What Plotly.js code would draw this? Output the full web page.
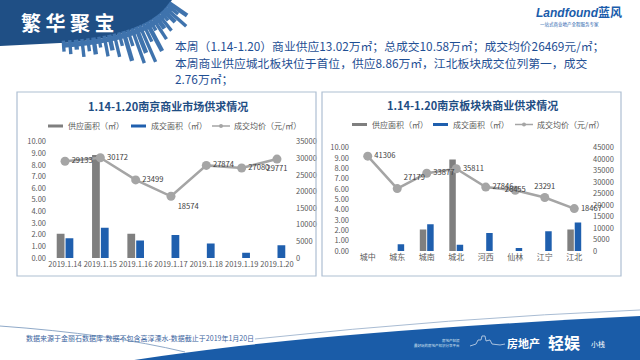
<!DOCTYPE html>
<html><head><meta charset="utf-8">
<script src="https://cdn.plot.ly/plotly-3.0.1.min.js"></script>
<style>html,body{margin:0;padding:0;background:#fff}#chart{width:640px;height:360px}</style>
</head><body><div id="chart"></div>
<script>
// ---- data ----
const dates = ['2019.1.14','2019.1.15','2019.1.16','2019.1.17','2019.1.18','2019.1.19','2019.1.20'];
const citySupply = [2.08, 8.86, 2.08, 0, 0, 0, 0];
const cityDeal = [1.70, 2.60, 1.50, 1.98, 1.25, 0.45, 1.10];
const cityPrice = [29133, 30172, 23499, 18574, 27874, 27080, 29771];
const areas = ['城中','城东','城南','城北','河西','仙林','江宁','江北'];
const areaSupply = [0, 0, 2.08, 8.86, 0, 0, 0, 2.08];
const areaDeal = [0, 0.66, 2.60, 0.60, 1.74, 0.30, 1.92, 2.76];
const areaPrice = [41306, 27179, 33877, 35811, 27846, 26455, 23291, 18467];
const legendNames = ['供应面积（㎡）','成交面积（㎡）','成交均价（元/㎡）'];

// ---- styles ----
const W = 640, H = 360;
const GRAY = '#7f7f7f', BLUE = '#1f5fae', LINE = '#a5a5a5';
const CJK = '"Noto Sans CJK SC", "Noto Sans", sans-serif';
const leftPos = ['middle right','middle right','middle right','bottom right','middle right','middle right','bottom center'];
const rightPos = ['middle right','top right','middle right','middle right','middle right','middle center','top center','middle right'];

function fx(x){return x/W;}
function fy(y){return 1-y/H;}
function P(x,y){return fx(x).toFixed(4)+','+fy(y).toFixed(4);}
function path(pts, close){
  let s = 'M' + P(pts[0][0], pts[0][1]);
  for (let i=1;i<pts.length;i++) s += ' L' + P(pts[i][0], pts[i][1]);
  return s + (close ? ' Z' : '');
}
function A(x,y,text,o){
  o = o || {};
  return {xref:'paper',yref:'paper',x:fx(x),y:fy(y),text:text,showarrow:false,
    xanchor:o.xa||'left',yanchor:o.ya||'middle',
    font:{family:o.family||CJK,size:o.size||8,color:o.color||'#595959',weight:o.weight||'normal',style:o.style||'normal'}};
}

const tickFont = {family:CJK,size:7.5,color:'#595959'};
const labelFont = {family:CJK,size:7.6,color:'#404040'};

const traces = [
  {type:'bar',x:dates,y:citySupply,xaxis:'x',yaxis:'y',marker:{color:GRAY},hoverinfo:'skip',name:legendNames[0]},
  {type:'bar',x:dates,y:cityDeal,xaxis:'x',yaxis:'y',marker:{color:BLUE},hoverinfo:'skip',name:legendNames[1]},
  {type:'scatter',x:dates,y:cityPrice,xaxis:'x',yaxis:'y2',mode:'lines+markers+text',
   line:{color:LINE,width:2.5},marker:{color:LINE,size:9},text:cityPrice.map(String),
   textposition:leftPos,textfont:labelFont,cliponaxis:false,hoverinfo:'skip',name:legendNames[2]},
  {type:'bar',x:areas,y:areaSupply,xaxis:'x2',yaxis:'y3',marker:{color:GRAY},hoverinfo:'skip',name:legendNames[0]},
  {type:'bar',x:areas,y:areaDeal,xaxis:'x2',yaxis:'y3',marker:{color:BLUE},hoverinfo:'skip',name:legendNames[1]},
  {type:'scatter',x:areas,y:areaPrice,xaxis:'x2',yaxis:'y4',mode:'lines+markers+text',
   line:{color:LINE,width:2.5},marker:{color:LINE,size:9},text:areaPrice.map(String),
   textposition:rightPos,textfont:labelFont,cliponaxis:false,hoverinfo:'skip',name:legendNames[2]}
];

const yBase = {showgrid:false,zeroline:false,showline:false,ticks:'',tickfont:tickFont,fixedrange:true};
const xBase = {type:'category',showgrid:false,zeroline:false,showline:false,ticks:'',tickfont:tickFont,tickangle:0,fixedrange:true};

const shapes = [];
const annotations = [];

// top-left navy blob
shapes.push({type:'path',xref:'paper',yref:'paper',line:{width:0},fillcolor:'#1f4f85',
  path:'M'+P(0,0)+' L'+P(172,0)+' Q'+P(150,38)+' '+P(60,43)+' L'+P(0,46)+' Z'});
// skyline buildings radiating from the blob edge
(function(){
  const P0=[172,2], C=[150,38], P2=[58,43];
  const hs=[20,12,26,15,9,19,13,23,10,31,18,38,26,35,15,29,12,22,14,19,9,15,11,16,8,12,9];
  const n=hs.length;
  for(let i=0;i<n;i++){
    const t=0.03+0.94*i/(n-1);
    const bx=(1-t)*(1-t)*P0[0]+2*(1-t)*t*C[0]+t*t*P2[0];
    const by=(1-t)*(1-t)*P0[1]+2*(1-t)*t*C[1]+t*t*P2[1];
    let tx=2*(1-t)*(C[0]-P0[0])+2*t*(P2[0]-C[0]);
    let ty=2*(1-t)*(C[1]-P0[1])+2*t*(P2[1]-C[1]);
    const L=Math.hypot(tx,ty); tx/=L; ty/=L;
    const nx=ty, ny=-tx;
    const w=(i%3===0)?4.4:3.4, h=hs[i];
    const q=[
      [bx-tx*w/2-nx*2, by-ty*w/2-ny*2],
      [bx+tx*w/2-nx*2, by+ty*w/2-ny*2],
      [bx+tx*w/2+nx*h, by+ty*w/2+ny*h],
      [bx-tx*w/2+nx*h, by-ty*w/2+ny*h]
    ];
    shapes.push({type:'path',xref:'paper',yref:'paper',line:{width:0},fillcolor:'#3f73ad',path:path(q,true)});
  }
  const band=[];
  for(let k=0;k<=20;k++){const t=0.03+0.94*k/20;
    band.push([(1-t)*(1-t)*P0[0]+2*(1-t)*t*C[0]+t*t*P2[0],(1-t)*(1-t)*P0[1]+2*(1-t)*t*C[1]+t*t*P2[1]]);}
  for(let k=20;k>=0;k--){const t=0.03+0.94*k/20;
    let tx=2*(1-t)*(C[0]-P0[0])+2*t*(P2[0]-C[0]), ty=2*(1-t)*(C[1]-P0[1])+2*t*(P2[1]-C[1]);
    const L=Math.hypot(tx,ty);
    band.push([(1-t)*(1-t)*P0[0]+2*(1-t)*t*C[0]+t*t*P2[0]+ty/L*5,(1-t)*(1-t)*P0[1]+2*(1-t)*t*C[1]+t*t*P2[1]-tx/L*5]);}
  shapes.push({type:'path',xref:'paper',yref:'paper',line:{width:0},fillcolor:'#3f73ad',path:path(band,true)});
})();
annotations.push(A(68,22,'繁 华 聚 宝',{xa:'center',size:20,color:'#ffffff',weight:'bold'}));

// logo
annotations.push(A(534,13,'<i>Landfound</i>蓝风',{size:12,color:'#1a5cab',weight:'bold',family:'"Liberation Sans", '+CJK}));
annotations.push(A(538,24.5,'一站式商业地产全程服务专家',{size:4.5,color:'#1a5cab'}));

// paragraph
const pc = '#1f4f94';
annotations.push(A(173,45,'本周（1.14-1.20）商业供应13.02万㎡；总成交10.58万㎡；成交均价26469元/㎡；',{size:11.8,color:pc}));
annotations.push(A(173,62,'本周商业供应城北板块位于首位，供应8.86万㎡，江北板块成交位列第一，成交',{size:11.8,color:pc}));
annotations.push(A(173,78,'2.76万㎡；',{size:11.8,color:pc}));

// panels
shapes.push({type:'rect',xref:'paper',yref:'paper',x0:fx(17),x1:fx(316),y0:fy(92),y1:fy(276),line:{color:'#aebfd2',width:1.2},fillcolor:'rgba(0,0,0,0)'});
shapes.push({type:'rect',xref:'paper',yref:'paper',x0:fx(322),x1:fx(621),y0:fy(92),y1:fy(276),line:{color:'#aebfd2',width:1.2},fillcolor:'rgba(0,0,0,0)'});

// chart titles
annotations.push(A(168,106,'<b>1.14-1.20南京商业市场供求情况</b>',{xa:'center',size:11,color:'#1f4e84'}));
annotations.push(A(472,105,'<b>1.14-1.20南京板块块商业供求情况</b>',{xa:'center',size:11,color:'#1f4e84'}));

// custom legends
function legend(y, xs){
  shapes.push({type:'line',xref:'paper',yref:'paper',x0:fx(xs[0]),x1:fx(xs[0]+15),y0:fy(y),y1:fy(y),line:{color:GRAY,width:3}});
  annotations.push(A(xs[0]+18,y,legendNames[0]));
  shapes.push({type:'line',xref:'paper',yref:'paper',x0:fx(xs[1]),x1:fx(xs[1]+15),y0:fy(y),y1:fy(y),line:{color:BLUE,width:3}});
  annotations.push(A(xs[1]+18,y,legendNames[1]));
  shapes.push({type:'line',xref:'paper',yref:'paper',x0:fx(xs[2]),x1:fx(xs[2]+18),y0:fy(y),y1:fy(y),line:{color:LINE,width:1.5}});
  shapes.push({type:'circle',xref:'paper',yref:'paper',x0:fx(xs[2]+7),x1:fx(xs[2]+11),y0:fy(y+2),y1:fy(y-2),line:{width:0},fillcolor:LINE});
  annotations.push(A(xs[2]+20,y,legendNames[2]));
}
legend(126,[48,131,212]);
legend(124.5,[352,433,515]);

// bottom decoration
shapes.push({type:'path',xref:'paper',yref:'paper',line:{width:0},fillcolor:'#1a5ca8',
  path:'M'+P(128,361)+' Q'+P(300,333)+' '+P(641,316)+' L'+P(641,361)+' Z'});
shapes.push({type:'path',xref:'paper',yref:'paper',line:{color:'#8fa9c8',width:1},
  path:'M'+P(0,326)+' Q'+P(110,334)+' '+P(185,352)});
shapes.push({type:'path',xref:'paper',yref:'paper',line:{color:'#a9bcd3',width:1},
  path:'M'+P(255,339)+' Q'+P(450,318)+' '+P(640,310)});
shapes.push({type:'path',xref:'paper',yref:'paper',line:{color:'#cfdcec',width:0.8},
  path:path([[470,346],[476,344],[478,340],[481,340],[482,336],[485,336],[486,341],[490,340],[492,344],[500,345],[505,344]],false)});
annotations.push(A(24,338,'数据来源于金丽石数据库-数据不包含高淳溧水-数据截止于2019年1月20日',{size:7,color:'#3a64a0'}));
annotations.push(A(462,340,'房地产轻娱',{xa:'right',size:3.5,color:'#d8e4f2'}));
annotations.push(A(462,345,'最好玩的房地产知识分享平台',{xa:'right',size:3.5,color:'#d8e4f2'}));
annotations.push(A(505,343,'房地产',{size:11,color:'#ffffff',weight:'bold'}));
annotations.push(A(546,342,'轻娱',{size:16,color:'#ffffff',weight:'bold'}));
annotations.push(A(589,344,'小栈',{size:7,color:'#ffffff'}));

const layout = {
  width:W,height:H,margin:{l:0,r:0,t:0,b:0},paper_bgcolor:'#ffffff',plot_bgcolor:'rgba(0,0,0,0)',
  showlegend:false,barmode:'group',bargap:0.5,bargroupgap:0.12,
  font:{family:CJK,size:8,color:'#595959'},
  xaxis:Object.assign({},xBase,{domain:[fx(47),fx(295)],anchor:'y'}),
  yaxis:Object.assign({},yBase,{domain:[fy(258),fy(141.7)],range:[0,10],dtick:1,tickformat:'.2f',anchor:'x'}),
  yaxis2:Object.assign({},yBase,{overlaying:'y',side:'right',anchor:'x',range:[0,35000],dtick:5000,tickformat:'d'}),
  xaxis2:Object.assign({},xBase,{domain:[fx(350),fx(592)],anchor:'y3',tickfont:{family:CJK,size:8,color:'#595959'}}),
  yaxis3:Object.assign({},yBase,{domain:[fy(251),fy(147.7)],range:[0,10],dtick:1,tickformat:'.2f',anchor:'x2'}),
  yaxis4:Object.assign({},yBase,{overlaying:'y3',side:'right',anchor:'x2',range:[0,45000],dtick:5000,tickformat:'d'}),
  shapes:shapes,annotations:annotations
};
Plotly.newPlot('chart',traces,layout,{staticPlot:true,displayModeBar:false});
</script></body></html>
